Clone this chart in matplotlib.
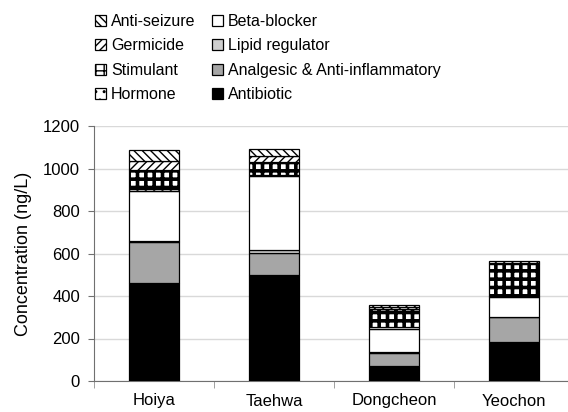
import matplotlib
matplotlib.use("Agg")
import matplotlib.pyplot as plt
import numpy as np

plt.rcParams['font.family'] = ['Liberation Sans', 'DejaVu Sans']

sites = ["Hoiya", "Taehwa", "Dongcheon", "Yeochon"]
antibiotic = [463, 500, 70, 185]
analgesic = [190, 103, 62, 115]
lipid = [7, 12, 3, 3]
beta_blocker = [233, 350, 110, 90]
hormone = [12, 3, 10, 5]
stimulant = [88, 62, 85, 152]
germicide = [42, 30, 8, 5]
anti_seizure = [50, 30, 10, 12]

series = [
    ("Antibiotic", antibiotic, dict(facecolor="black", hatch=None)),
    ("Analgesic & Anti-inflammatory", analgesic, dict(facecolor="#a6a6a6", hatch=None)),
    ("Lipid regulator", lipid, dict(facecolor="#cfcfcf", hatch=None)),
    ("Beta-blocker", beta_blocker, dict(facecolor="white", hatch=None)),
    ("Hormone", hormone, dict(facecolor="white", hatch="..")),
    ("Stimulant", stimulant, dict(facecolor="white", hatch="++")),
    ("Germicide", germicide, dict(facecolor="white", hatch="////")),
    ("Anti-seizure", anti_seizure, dict(facecolor="white", hatch="\\\\\\\\")),
]

fig = plt.figure(figsize=(5.68, 4.12), dpi=100)
ax = fig.add_axes([94/568, 31/412, 480/568, 255/412])

x = np.arange(len(sites))
bottom = np.zeros(len(sites))
handles = {}
for name, vals, st in series:
    bars = ax.bar(x, vals, width=0.41, bottom=bottom, facecolor=st["facecolor"],
                  edgecolor="black", linewidth=0.9, hatch=st["hatch"], label=name, zorder=3)
    if name == "Stimulant":
        for b in bars:
            try:
                b.set_hatch_linewidth(2.6)
            except Exception:
                pass
    handles[name] = bars
    bottom += np.array(vals)

ax.set_xlim(-0.5, 3.5)
ax.set_ylim(0, 1200)
ax.set_yticks(np.arange(0, 1201, 200))
ax.yaxis.grid(True, color="#d9d9d9", linewidth=1, zorder=0)
ax.set_axisbelow(True)
for s in ["top", "right"]:
    ax.spines[s].set_visible(False)
ax.spines["left"].set_color("#707070")
ax.spines["bottom"].set_color("#707070")
ax.tick_params(axis="y", direction="out", length=4, color="#707070", labelsize=12, pad=6)
ax.set_xticks(x)
ax.set_xticklabels(sites, fontsize=12)
ax.tick_params(axis="x", which="major", length=0, pad=9)
ax.set_xticks(np.arange(-0.5, 4.0, 1.0), minor=True)
ax.tick_params(axis="x", which="minor", direction="out", length=5, color="#909090")
ax.set_ylabel("Concentration (ng/L)", fontsize=13, labelpad=8)

order = ["Anti-seizure", "Germicide", "Stimulant", "Hormone",
         "Beta-blocker", "Lipid regulator", "Analgesic & Anti-inflammatory", "Antibiotic"]
leg = fig.legend([handles[n] for n in order], order, ncol=2, frameon=False,
                 loc="upper left", bbox_to_anchor=(92/568, 1 - 11/412),
                 fontsize=11.5, handlelength=0.7, handleheight=0.7, handletextpad=0.3,
                 columnspacing=1.0, labelspacing=0.58, borderpad=0.2, borderaxespad=0)

fig.savefig("out.png", dpi=100)
